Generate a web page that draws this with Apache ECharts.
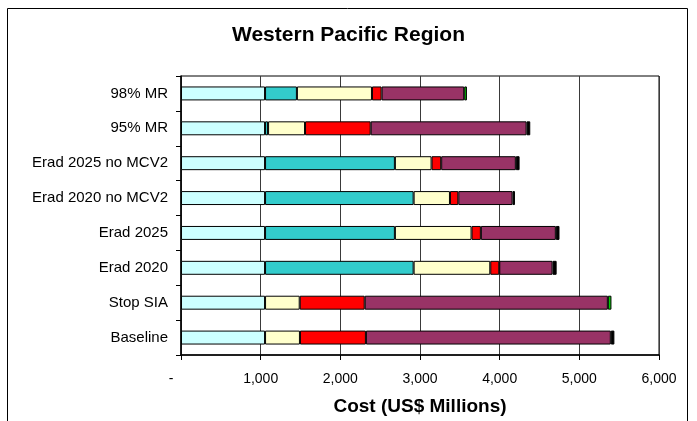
<!DOCTYPE html>
<html>
<head>
<meta charset="utf-8">
<script src="https://cdn.jsdelivr.net/npm/echarts@6/dist/echarts.min.js"></script>
<style>
  html, body { margin: 0; padding: 0; background: #fff; }
  #chart { width: 697px; height: 421px; }
</style>
</head>
<body>
<div id="chart"></div>
<script>
// categories, bottom to top (category axis draws the first one at the bottom)
const scenarios = ['Baseline', 'Stop SIA', 'Erad 2020', 'Erad 2025', 'Erad 2020 no MCV2', 'Erad 2025 no MCV2', '95% MR', '98% MR']

// cost components, US$ millions
const partA = [1055, 1055, 1055, 1055, 1055, 1055, 1055, 1055]
const partB = ['-', '-', 1865, 1630, 1865, 1630, 38, 400]
const partC = [438, 435, 962, 962, 456, 460, 464, 942]
const partD = [828, 816, 113, 117, 105, 121, 824, 121]
const partE = [3074, 3052, 669, 941, 681, 937, 1957, 1037]
const partF = [45, '-', 51, 46, 30, 47, 46, '-']
const partG = ['-', 45, '-', '-', '-', '-', '-', 34]

const xTicks = [0, 1000, 2000, 3000, 4000, 5000, 6000]

const font = 'Liberation Sans, Arial, sans-serif'

const chart = echarts.init(document.getElementById('chart'))

function seg(name, data, color) {
  return {
    name: name,
    type: 'bar',
    stack: 'cost',
    data: data,
    barWidth: '40%',
    itemStyle: { color: color, borderColor: '#000', borderWidth: 1 }
  }
}

chart.setOption({
  animation: false,
  title: {
    text: 'Western Pacific Region',
    left: 'center',
    top: 20,
    textStyle: { fontFamily: font, fontSize: 21, fontWeight: 'bold', color: '#000' }
  },
  graphic: [{
    type: 'rect',
    shape: { x: 7.5, y: 8.5, width: 680, height: 420 },
    style: { fill: 'none', stroke: '#000', lineWidth: 1 },
    silent: true
  }],
  grid: {
    left: 181, right: 38, top: 76, bottom: 64,
    show: true, borderColor: '#000', borderWidth: 1
  },
  xAxis: {
    type: 'value',
    min: xTicks[0],
    max: xTicks[xTicks.length - 1],
    interval: 1000,
    name: 'Cost (US$ Millions)',
    nameLocation: 'middle',
    nameGap: 42,
    nameTextStyle: { fontFamily: font, fontSize: 19, fontWeight: 'bold', color: '#000' },
    axisLine: { show: true, lineStyle: { color: '#000', width: 1.5 } },
    axisTick: { show: true, length: 5, lineStyle: { color: '#000' } },
    axisLabel: {
      fontFamily: font, fontSize: 14, color: '#000', margin: 17,
      formatter: v => v === 0 ? '{d|-}' : v.toLocaleString('en-US'),
      rich: { d: { fontFamily: font, fontSize: 14, color: '#000', padding: [0, 20, 0, 0] } }
    },
    splitLine: { show: true, lineStyle: { color: '#3a3a3a', width: 1 } }
  },
  yAxis: {
    type: 'category',
    data: scenarios,
    axisLine: { show: true, lineStyle: { color: '#000', width: 1.5 } },
    axisTick: { show: true, length: 5, lineStyle: { color: '#000' } },
    axisLabel: { fontFamily: font, fontSize: 15, color: '#000', margin: 13 }
  },
  series: [
    seg('A', partA, '#CCFFFF'),
    seg('B', partB, '#33CCCC'),
    seg('C', partC, '#FFFFCC'),
    seg('D', partD, '#FF0000'),
    seg('E', partE, '#993366'),
    seg('F', partF, '#000000'),
    seg('G', partG, '#00CC00')
  ]
})
</script>
</body>
</html>
